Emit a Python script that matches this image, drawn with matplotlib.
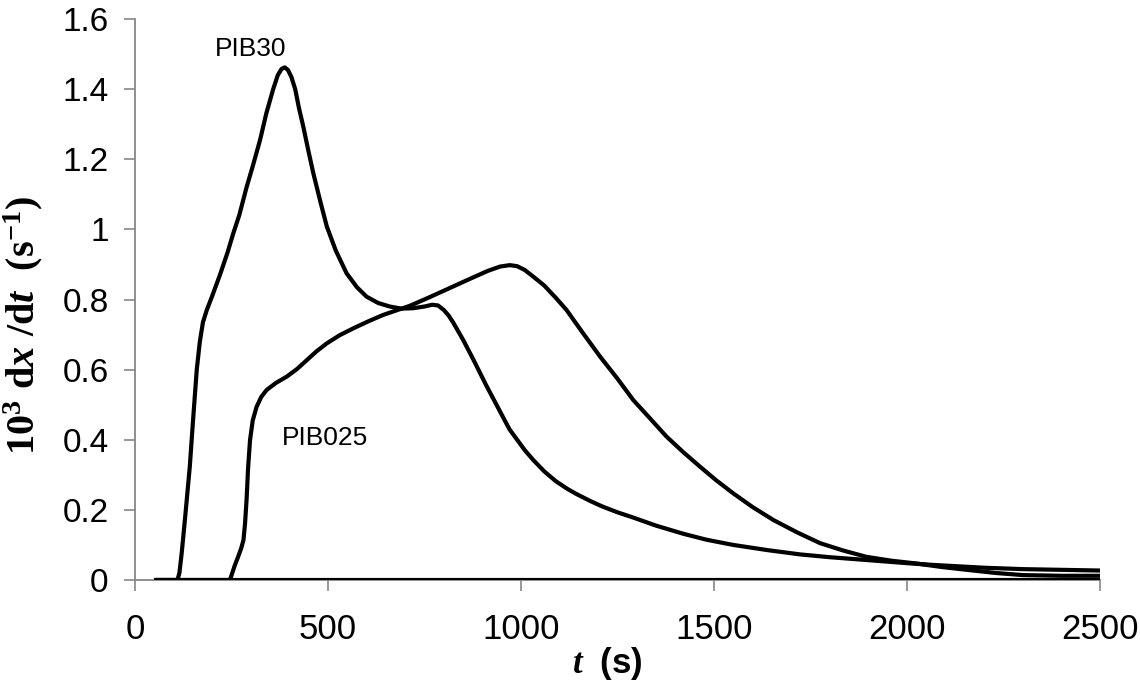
import matplotlib
matplotlib.use("Agg")
import matplotlib.pyplot as plt

plt.rcParams['font.family'] = ['Liberation Sans', 'DejaVu Sans']
plt.rcParams['mathtext.fontset'] = 'custom'
plt.rcParams['mathtext.rm'] = 'Liberation Serif:bold'
plt.rcParams['mathtext.bf'] = 'Liberation Serif:bold'
plt.rcParams['mathtext.it'] = 'Liberation Serif:italic:bold'
plt.rcParams['mathtext.sf'] = 'Liberation Sans:bold'

# PIB30 series
t_pib30 = [55, 110, 115, 121, 130, 142, 150, 160, 168, 176, 186, 200, 220, 240, 255, 270,
           289, 305, 324, 340, 358, 370, 380, 388, 396, 405, 415, 425, 436, 449, 462, 480,
           497, 520, 548, 575, 600, 630, 660, 690, 720, 750, 770, 785, 800, 812, 824, 850,
           876, 910, 946, 970, 990, 1010, 1032, 1060, 1090, 1120, 1144, 1180, 1210, 1250,
           1291, 1350, 1420, 1480, 1550, 1640, 1723, 1800, 1895, 2000, 2068, 2200, 2300,
           2400, 2500]
v_pib30 = [0, 0, 0.02, 0.077, 0.18, 0.324, 0.45, 0.60, 0.68, 0.735, 0.77, 0.81, 0.87, 0.935,
           0.99, 1.04, 1.12, 1.18, 1.255, 1.33, 1.40, 1.44, 1.458, 1.462, 1.455, 1.435, 1.40,
           1.345, 1.293, 1.225, 1.16, 1.08, 1.008, 0.94, 0.875, 0.835, 0.808, 0.79, 0.78,
           0.774, 0.775, 0.78, 0.785, 0.783, 0.77, 0.755, 0.735, 0.685, 0.63, 0.555, 0.48,
           0.43, 0.40, 0.37, 0.342, 0.31, 0.282, 0.26, 0.245, 0.225, 0.21, 0.193, 0.178,
           0.155, 0.132, 0.115, 0.10, 0.085, 0.073, 0.065, 0.057, 0.048, 0.043, 0.035,
           0.031, 0.029, 0.027]

# PIB025 series
t_pib025 = [55, 246, 252, 258, 265, 275, 281, 285, 289, 293, 298, 305, 315, 327, 341, 365,
            393, 420, 445, 470, 497, 530, 566, 605, 643, 680, 712, 760, 800, 840, 880, 915,
            946, 971, 990, 1010, 1032, 1060, 1090, 1118, 1160, 1205, 1250, 1291, 1335, 1377,
            1420, 1464, 1505, 1550, 1600, 1654, 1715, 1775, 1835, 1895, 1960, 2025, 2090,
            2155, 2230, 2300, 2400, 2500]
v_pib025 = [0, 0, 0.02, 0.04, 0.06, 0.09, 0.114, 0.16, 0.228, 0.32, 0.399, 0.455, 0.494,
            0.522, 0.542, 0.562, 0.58, 0.602, 0.627, 0.652, 0.675, 0.698, 0.718, 0.738,
            0.756, 0.77, 0.782, 0.805, 0.825, 0.845, 0.865, 0.882, 0.894, 0.898, 0.895,
            0.884, 0.865, 0.84, 0.805, 0.77, 0.705, 0.637, 0.574, 0.513, 0.46, 0.409, 0.365,
            0.323, 0.285, 0.247, 0.208, 0.171, 0.136, 0.105, 0.084, 0.066, 0.055, 0.047,
            0.037, 0.029, 0.02, 0.014, 0.012, 0.012]

# baseline series (zero)
t_zero = [55, 2500]
v_zero = [0, 0]

x_ticks = [0, 500, 1000, 1500, 2000, 2500]
y_ticks = [0, 0.2, 0.4, 0.6, 0.8, 1.0, 1.2, 1.4, 1.6]
y_ticklabels = ['0', '0.2', '0.4', '0.6', '0.8', '1', '1.2', '1.4', '1.6']

fig = plt.figure(figsize=(11.4, 6.83), dpi=100)
ax = fig.add_axes([135/1140, 1 - 580/683, (1100-135)/1140, (580-19)/683])

lw = 3.0
ax.plot(t_zero, v_zero, color='black', lw=lw, solid_capstyle='butt', zorder=3)
ax.plot(t_pib025, v_pib025, color='black', lw=lw, solid_joinstyle='round', zorder=3)
ax.plot(t_pib30, v_pib30, color='black', lw=lw, solid_joinstyle='round', zorder=3)

ax.set_xlim(0, 2500)
ax.set_ylim(0, 1.6)
ax.set_xticks(x_ticks)
ax.set_xticklabels([str(v) for v in x_ticks])
ax.set_yticks(y_ticks)
ax.set_yticklabels(y_ticklabels)

for s in ['top', 'right']:
    ax.spines[s].set_visible(False)
for s in ['left', 'bottom']:
    ax.spines[s].set_color('#868686')
    ax.spines[s].set_linewidth(1.3)
    ax.spines[s].set_zorder(1)

ax.tick_params(axis='y', direction='out', length=8, width=1.2, color='#868686',
               labelsize=24, pad=11)
ax.tick_params(axis='x', direction='out', length=8, width=1.2, color='#868686',
               labelsize=25, pad=16)

ax.text(300, 1.515, 'PIB30', fontsize=19, ha='center', va='center')
ax.text(492, 0.406, 'PIB025', fontsize=19, ha='center', va='center')

fig.text(23/1140, 1 - 326/683, r'$\mathrm{10^{3}\ d}\mathit{x}\mathrm{\ /d}\mathit{t}\mathrm{\ \ (s^{-1})}$',
         rotation=90, fontsize=29, ha='center', va='center')
fig.text(607/1140, 1 - 663/683, r'$\mathit{t}\ \ \mathsf{(s)}$', fontsize=25,
         ha='center', va='center')

fig.savefig('out.png', dpi=100)
